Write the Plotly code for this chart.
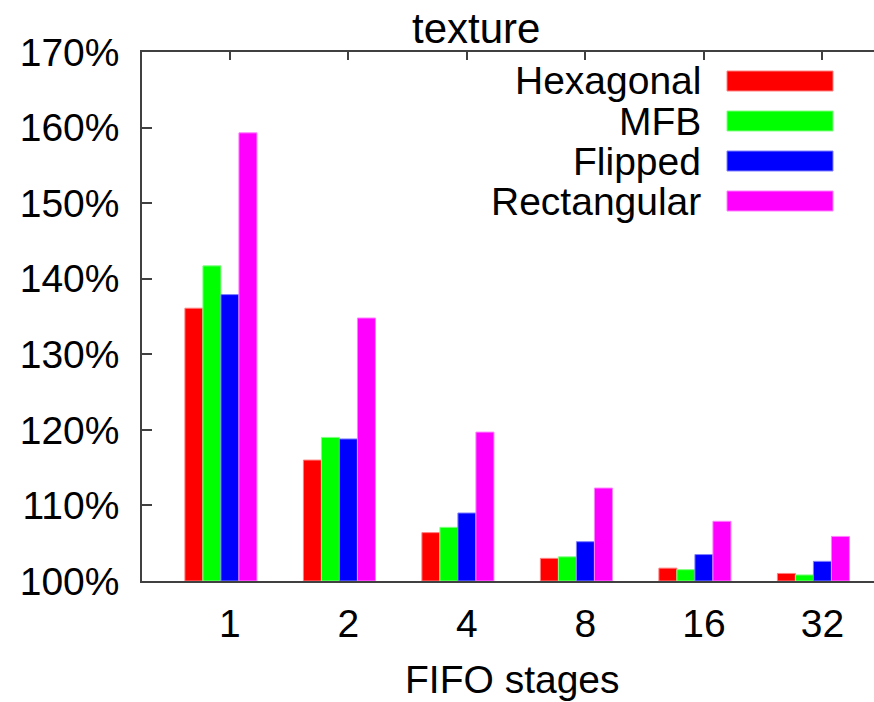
import plotly.graph_objects as go

# FIFO depth categories and relative texture cost per layout
stages = ["1", "2", "4", "8", "16", "32"]
series_names = ["Hexagonal", "MFB", "Flipped", "Rectangular"]
hexagonal = [136.1, 116.0, 106.4, 103.0, 101.7, 101.0]
mfb = [141.7, 119.0, 107.1, 103.2, 101.5, 100.8]
flipped = [137.9, 118.8, 109.0, 105.2, 103.5, 102.6]
rectangular = [159.3, 134.8, 119.7, 112.3, 107.9, 105.9]
y_ticks = [100, 110, 120, 130, 140, 150, 160, 170]

colors = ["#ff0000", "#00ff00", "#0000ff", "#ff00ff"]
edge_colors = ["#ff8080", "#80ff80", "#8080ff", "#ff80ff"]
values = [hexagonal, mfb, flipped, rectangular]

W, H = 874, 702
L, T, B = 142, 52, 121
FONT = "Liberation Sans, Arial, Helvetica, sans-serif"
AXIS = "#404040"

bar_w = 0.152
first_edge = -0.38

fig = go.Figure()
xs = list(range(len(stages)))
for k, (name, vals) in enumerate(zip(series_names, values)):
    fig.add_trace(go.Bar(
        x=xs, y=[v - 100 for v in vals], base=100, name=name,
        width=bar_w, offset=first_edge + k * bar_w,
        marker=dict(color=colors[k], line=dict(color=edge_colors[k], width=1)),
        showlegend=False,
    ))

# key drawn in the upper right: right-aligned labels followed by colour swatches
plot_w = W - L
plot_h = H - T - B
def px_x(px):
    return (px - L) / plot_w
def px_y(py):
    return 1 - (py - T) / plot_h

for k, name in enumerate(series_names):
    cy = 81 + 40 * k
    fig.add_shape(type="rect", xref="paper", yref="paper",
                  x0=px_x(727), x1=px_x(833), y0=px_y(cy + 10), y1=px_y(cy - 10),
                  fillcolor=colors[k], line=dict(color=edge_colors[k], width=1))
    fig.add_annotation(xref="paper", yref="paper", x=px_x(703), y=px_y(cy),
                       text=name, showarrow=False, xanchor="right", yanchor="middle",
                       font=dict(family=FONT, size=39, color="#000"))

fig.add_annotation(xref="paper", yref="paper", x=px_x(476), y=px_y(28),
                   text="texture", showarrow=False, xanchor="center", yanchor="middle",
                   font=dict(family=FONT, size=42, color="#000"))
fig.add_annotation(xref="paper", yref="paper", x=px_x(512), y=px_y(679),
                   text="FIFO stages", showarrow=False, xanchor="center", yanchor="middle",
                   font=dict(family=FONT, size=39, color="#000"))

x_left = -0.742
x_right = x_left + plot_w / 118.5

fig.update_layout(
    width=W, height=H,
    margin=dict(l=L, r=0, t=T, b=B, pad=0),
    paper_bgcolor="white", plot_bgcolor="white",
    barmode="overlay",
    xaxis=dict(
        range=[x_left, x_right], tickvals=xs, ticktext=stages,
        ticks="inside", ticklen=8, tickwidth=1.5, tickcolor=AXIS,
        showline=True, linecolor=AXIS, linewidth=1.5, mirror="ticks",
        showgrid=False, zeroline=False, layer="below traces",
        tickfont=dict(family=FONT, size=39, color="#000"),
        ticklabelstandoff=7,
    ),
    yaxis=dict(
        range=[100, 170], tickvals=y_ticks, ticktext=[f"{v}%" for v in y_ticks],
        ticks="inside", ticklen=10, tickwidth=1.5, tickcolor=AXIS,
        showline=True, linecolor=AXIS, linewidth=1.5, mirror=False,
        showgrid=False, zeroline=False, layer="below traces",
        tickfont=dict(family=FONT, size=39, color="#000"),
        ticklabelstandoff=13,
    ),
    yaxis2=dict(
        overlaying="y", side="right", range=[100, 170], tickvals=y_ticks,
        ticks="inside", ticklen=3, tickwidth=1.5, tickcolor=AXIS,
        showticklabels=False, showline=False, showgrid=False, zeroline=False,
    ),
)

fig.write_html("out.html")
